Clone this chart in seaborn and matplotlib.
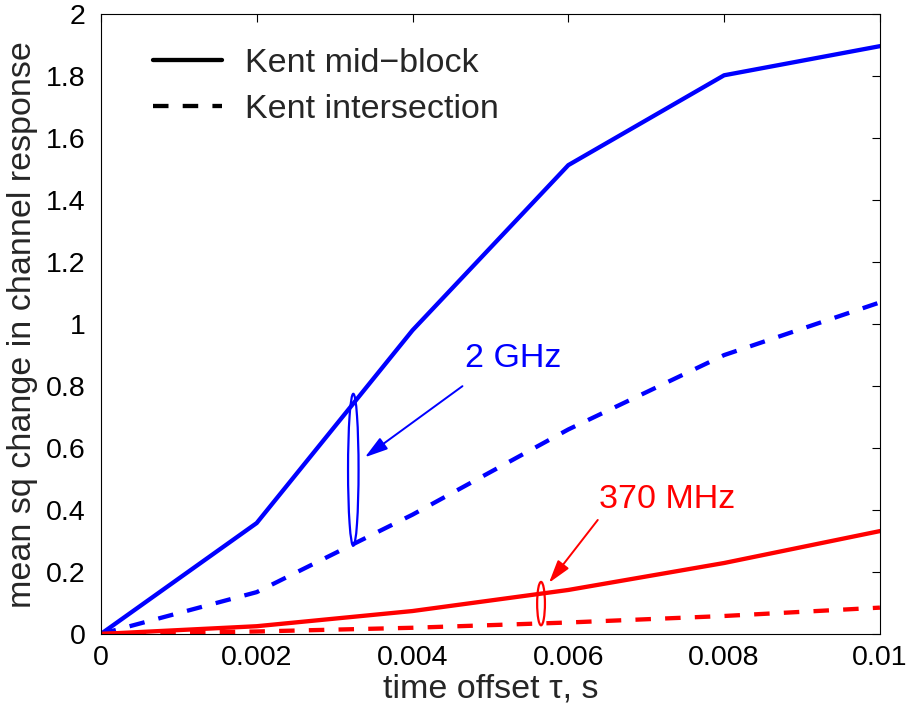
import numpy as np
import pandas as pd
import seaborn as sns
import matplotlib
matplotlib.use("Agg")
import matplotlib.pyplot as plt
from matplotlib.patches import Ellipse
from matplotlib.lines import Line2D

# ---- data ----
tau = [0.0, 0.002, 0.004, 0.006, 0.008, 0.010]
ghz_mid = [0.0, 0.358, 0.980, 1.513, 1.803, 1.897]
ghz_int = [0.0, 0.135, 0.385, 0.660, 0.900, 1.070]
mhz_mid = [0.0, 0.025, 0.074, 0.142, 0.229, 0.332]
mhz_int = [0.0, 0.008, 0.020, 0.037, 0.058, 0.085]
x_ticks = [0, 0.002, 0.004, 0.006, 0.008, 0.01]
y_ticks = [0, 0.2, 0.4, 0.6, 0.8, 1, 1.2, 1.4, 1.6, 1.8, 2]

MID = "Kent mid\u2212block"
INT = "Kent intersection"
rows = []
for band, site, vals in [("2 GHz", MID, ghz_mid),
                         ("2 GHz", INT, ghz_int),
                         ("370 MHz", MID, mhz_mid),
                         ("370 MHz", INT, mhz_int)]:
    for t, v in zip(tau, vals):
        rows.append({"tau": t, "val": v, "band": band, "site": site})
df = pd.DataFrame(rows)

sns.set_style("white")
plt.rcParams['font.family'] = ['Liberation Sans', 'DejaVu Sans']

fig = plt.figure(figsize=(9.09, 7.12), dpi=100)
ax = fig.add_axes([0.111, 0.1096, 0.857, 0.8704])

DASH = (3.6, 3.3)
sns.lineplot(data=df, x="tau", y="val", hue="band", style="site",
             palette={"2 GHz": "#0000FF", "370 MHz": "#FF0000"},
             dashes={MID: "", INT: DASH},
             linewidth=3.1, legend=False, ax=ax, estimator=None, sort=False)

ax.set_xlim(0, 0.01)
ax.set_ylim(0, 2)
ax.set_xticks(x_ticks)
ax.set_xticklabels([("%g" % v) for v in x_ticks])
ax.set_yticks(y_ticks)
ax.set_yticklabels([("%g" % v) for v in y_ticks])
ax.tick_params(direction="in", top=True, right=True, length=6, width=0.8,
               labelsize=20.5, colors="black")
ax.tick_params(axis="x", pad=8)
ax.tick_params(axis="y", pad=11)
for s in ax.spines.values():
    s.set_visible(True)
    s.set_color("black")
    s.set_linewidth(0.8)

ax.set_xlabel("time offset \u03c4, s", fontsize=24.5, labelpad=2)
ax.set_ylabel("mean sq change in channel response", fontsize=24.5, labelpad=6)

# annotations
ARROW = "-|>,head_length=1.4,head_width=0.42"
ax.add_patch(Ellipse((0.00324, 0.53), 0.000135, 0.49, fill=False,
                     edgecolor="#0000FF", linewidth=1.6))
ax.annotate("", xy=(0.00336, 0.565), xytext=(0.00467, 0.805),
            arrowprops=dict(arrowstyle=ARROW, color="#0000FF", lw=1.4))
ax.text(0.00468, 0.84, "2 GHz", color="#0000FF", fontsize=24.5,
        ha="left", va="bottom")

ax.add_patch(Ellipse((0.00565, 0.098), 0.0001, 0.14, fill=False,
                     edgecolor="#FF0000", linewidth=1.6))
ax.annotate("", xy=(0.00573, 0.158), xytext=(0.0064, 0.375),
            arrowprops=dict(arrowstyle=ARROW, color="#FF0000", lw=1.4))
ax.text(0.00640, 0.385, "370 MHz", color="#FF0000", fontsize=24.5,
        ha="left", va="bottom")

handles = [Line2D([0], [0], color="black", lw=3.1),
           Line2D([0], [0], color="black", lw=3.1, dashes=DASH)]
ax.legend(handles, [MID, INT],
          loc="upper left", bbox_to_anchor=(0.049, 0.967), borderaxespad=0,
          frameon=False, fontsize=24.5, handlelength=2.05, handletextpad=0.65,
          labelspacing=0.42)

fig.savefig("out.png", dpi=100)
